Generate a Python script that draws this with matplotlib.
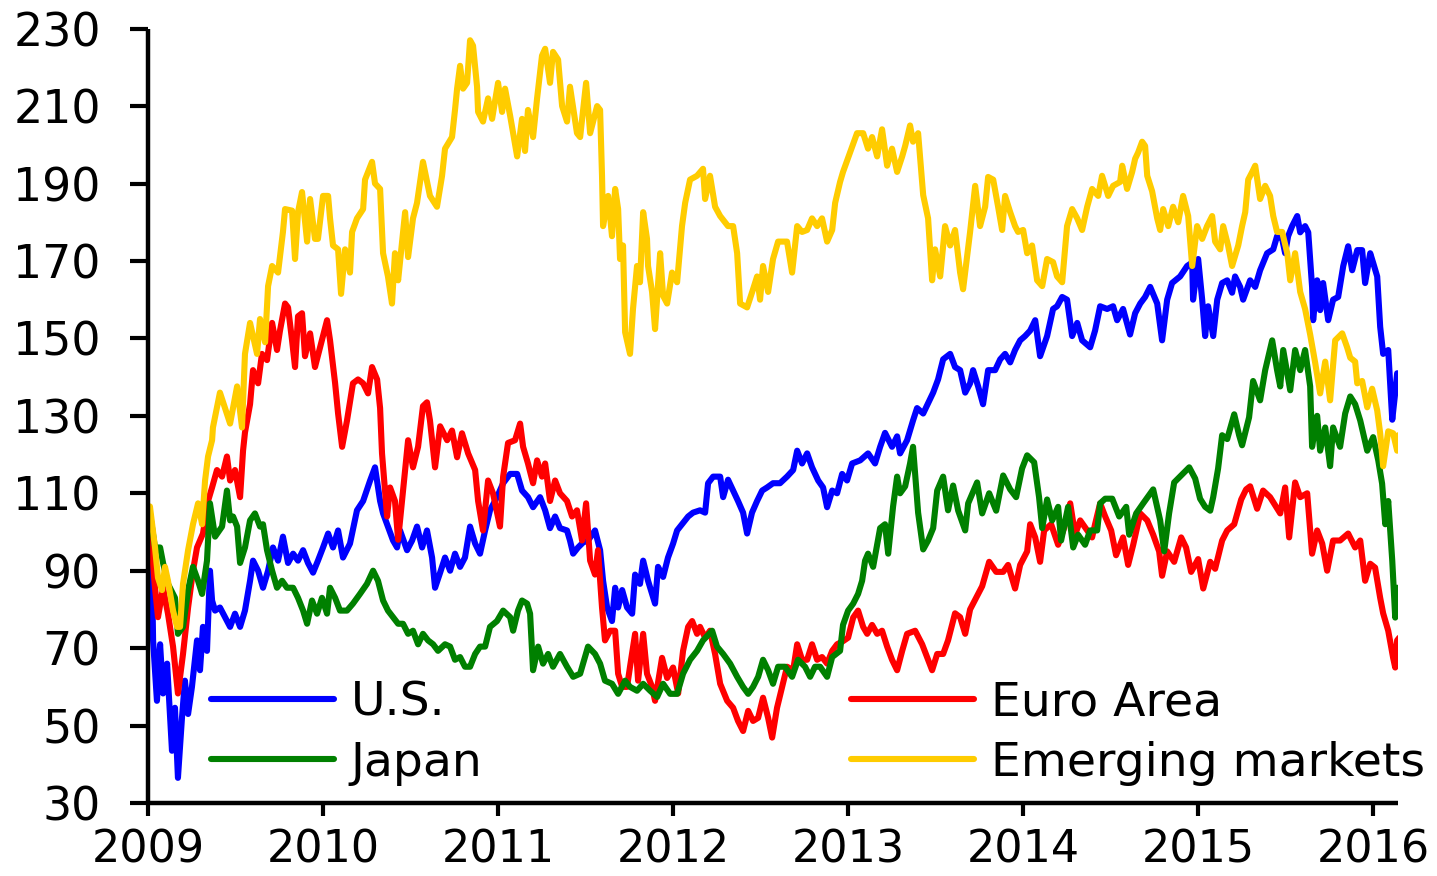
"""Equity indices by region, 2009-2016 (rebased)."""

import matplotlib
matplotlib.use('Agg')
import matplotlib.pyplot as plt


START_YEAR = 2009
YEAR_TICKS = [2009, 2010, 2011, 2012, 2013, 2014, 2015, 2016]
VALUE_TICKS = [30, 50, 70, 90, 110, 130, 150, 170, 190, 210, 230]

# time in years since start of 2009
US_T = [0.0, 0.023, 0.029, 0.051, 0.069, 0.086, 0.109, 0.137, 0.154, 0.171,
        0.194, 0.211, 0.229, 0.251, 0.28, 0.297, 0.314, 0.337, 0.354, 0.366,
        0.383, 0.411, 0.44, 0.469, 0.497, 0.526, 0.554, 0.583, 0.6, 0.629,
        0.657, 0.686, 0.714, 0.743, 0.771, 0.8, 0.829, 0.857, 0.886, 0.914,
        0.943, 0.971, 1.0, 1.029, 1.057, 1.086, 1.114, 1.154, 1.194, 1.229,
        1.269, 1.297, 1.326, 1.343, 1.371, 1.4, 1.423, 1.44, 1.48, 1.509,
        1.537, 1.566, 1.594, 1.623, 1.64, 1.669, 1.697, 1.726, 1.754, 1.783,
        1.811, 1.84, 1.869, 1.897, 1.926, 1.954, 1.994, 2.029, 2.069, 2.109,
        2.137, 2.171, 2.2, 2.24, 2.269, 2.297, 2.326, 2.354, 2.394, 2.411,
        2.429, 2.457, 2.486, 2.514, 2.554, 2.583, 2.6, 2.623, 2.651, 2.669,
        2.686, 2.709, 2.737, 2.766, 2.783, 2.811, 2.829, 2.857, 2.897, 2.914,
        2.943, 2.971, 3.0, 3.023, 3.051, 3.086, 3.114, 3.154, 3.183, 3.2,
        3.229, 3.269, 3.286, 3.314, 3.343, 3.371, 3.4, 3.423, 3.451, 3.48,
        3.509, 3.537, 3.571, 3.611, 3.651, 3.686, 3.709, 3.737, 3.766, 3.794,
        3.829, 3.857, 3.88, 3.909, 3.937, 3.966, 3.994, 4.023, 4.069, 4.114,
        4.154, 4.183, 4.211, 4.251, 4.28, 4.297, 4.337, 4.371, 4.394, 4.429,
        4.486, 4.514, 4.543, 4.583, 4.611, 4.64, 4.669, 4.697, 4.714, 4.743,
        4.771, 4.8, 4.84, 4.869, 4.897, 4.926, 4.954, 4.983, 5.011, 5.04,
        5.069, 5.097, 5.137, 5.171, 5.194, 5.223, 5.251, 5.28, 5.309, 5.337,
        5.383, 5.411, 5.44, 5.48, 5.514, 5.537, 5.571, 5.611, 5.64, 5.669,
        5.697, 5.726, 5.766, 5.794, 5.823, 5.851, 5.897, 5.937, 5.966, 5.971,
        6.0, 6.023, 6.04, 6.057, 6.086, 6.109, 6.137, 6.166, 6.194, 6.211,
        6.24, 6.257, 6.297, 6.326, 6.354, 6.394, 6.429, 6.451, 6.48, 6.497,
        6.514, 6.537, 6.566, 6.583, 6.611, 6.629, 6.651, 6.657, 6.68, 6.697,
        6.714, 6.743, 6.771, 6.8, 6.829, 6.857, 6.88, 6.909, 6.937, 6.954,
        6.983, 7.0, 7.023, 7.04, 7.057, 7.086, 7.109, 7.126, 7.137]
US_V = [100, 89.5, 72, 56.4, 71, 58.3, 66, 43.5, 54.6, 36.5,
        52, 61.6, 53, 60, 72, 64.3, 75.5, 69.3, 90, 82.3,
        79.7, 80.5, 78, 75.5, 78.9, 75.5, 79.7, 87.4, 92.6, 90,
        85.6, 90, 96, 92.6, 98.8, 92, 94.4, 92.6, 95.3, 92,
        89.5, 92.6, 96, 99.6, 96, 100.4, 93.4, 97, 105.6, 108,
        113.3, 116.7, 108, 104.8, 101.4, 97.8, 96, 100.4, 95.3, 97.8,
        101.4, 96, 100.4, 93.4, 85.6, 89.5, 93.4, 90, 94.4, 91,
        93.4, 101.4, 97, 94.4, 100.4, 105.6, 109, 112.6, 115, 115,
        110.7, 109, 106.4, 109, 105.6, 101, 104, 101, 100.4, 97.8,
        94.4, 96, 97.3, 97.8, 100.4, 95.3, 87.4, 80.5, 77, 85.6,
        80.5, 85, 80.5, 78.9, 89, 86.6, 92.6, 87.4, 81.5, 91,
        88.4, 93.4, 97, 100.4, 102, 104, 105, 105.6, 105, 112.6,
        114.3, 114.3, 109, 113.5, 110.7, 108, 105, 99.6, 105, 108,
        110.7, 111.5, 112.6, 112.6, 114.3, 116, 121, 117.7, 120.3, 116.7,
        113.3, 111.5, 106.4, 110.7, 110, 115, 113.3, 117.7, 118.5, 120.3,
        117.7, 122, 125.6, 122, 124.7, 120.3, 123.7, 128.8, 132, 130.6,
        136, 139.4, 144.6, 146, 142.6, 141.8, 136, 138.4, 141.8, 137.6,
        133, 141.8, 141.8, 144.6, 146, 143.8, 147, 149.5, 150.6, 152,
        154.7, 145.4, 150.6, 157.6, 158.3, 160.7, 160, 150.6, 154, 149.5,
        147.7, 152, 158.3, 157.6, 158.3, 154.7, 157.6, 151, 156.5, 159,
        160.7, 163.3, 159, 149.5, 160, 164.3, 166, 168.7, 169.6, 160,
        170.5, 160, 150.6, 158.3, 150.6, 160, 164.3, 165, 161.8, 166,
        163.3, 160, 165, 163.3, 167.6, 172, 173, 176.4, 175.7, 172,
        176.4, 179, 181.6, 177.4, 179, 177.4, 163.3, 154.7, 165, 157.3,
        164.3, 154.7, 160, 160.7, 168.7, 173.8, 167.6, 172.8, 172.8, 164.3,
        172, 169.5, 166, 153, 146, 147, 129, 136, 141]

EU_T = [0.0, 0.011, 0.04, 0.057, 0.086, 0.114, 0.143, 0.171, 0.2, 0.229,
        0.257, 0.28, 0.314, 0.343, 0.366, 0.394, 0.423, 0.451, 0.469, 0.497,
        0.526, 0.543, 0.554, 0.583, 0.6, 0.629, 0.651, 0.68, 0.709, 0.737,
        0.754, 0.783, 0.8, 0.823, 0.84, 0.857, 0.88, 0.897, 0.926, 0.954,
        0.983, 1.023, 1.04, 1.069, 1.086, 1.109, 1.137, 1.171, 1.2, 1.229,
        1.257, 1.28, 1.309, 1.326, 1.337, 1.366, 1.383, 1.411, 1.429, 1.457,
        1.486, 1.514, 1.543, 1.571, 1.594, 1.611, 1.64, 1.669, 1.709, 1.737,
        1.766, 1.794, 1.829, 1.869, 1.886, 1.914, 1.943, 1.971, 2.011, 2.029,
        2.057, 2.097, 2.126, 2.143, 2.171, 2.2, 2.223, 2.251, 2.269, 2.297,
        2.326, 2.354, 2.394, 2.423, 2.451, 2.48, 2.503, 2.526, 2.554, 2.571,
        2.594, 2.611, 2.64, 2.669, 2.686, 2.709, 2.737, 2.754, 2.783, 2.8,
        2.829, 2.851, 2.88, 2.897, 2.937, 2.966, 3.0, 3.029, 3.057, 3.086,
        3.109, 3.137, 3.154, 3.183, 3.211, 3.24, 3.269, 3.309, 3.343, 3.371,
        3.4, 3.429, 3.457, 3.486, 3.514, 3.543, 3.566, 3.594, 3.623, 3.651,
        3.686, 3.709, 3.737, 3.766, 3.794, 3.823, 3.851, 3.88, 3.909, 3.937,
        3.971, 4.0, 4.029, 4.057, 4.086, 4.109, 4.137, 4.166, 4.194, 4.223,
        4.251, 4.28, 4.309, 4.337, 4.383, 4.423, 4.451, 4.48, 4.509, 4.543,
        4.571, 4.611, 4.64, 4.669, 4.697, 4.726, 4.766, 4.806, 4.846, 4.886,
        4.914, 4.954, 4.983, 5.023, 5.04, 5.069, 5.097, 5.12, 5.16, 5.2,
        5.234, 5.269, 5.297, 5.326, 5.366, 5.394, 5.411, 5.44, 5.469, 5.503,
        5.531, 5.571, 5.6, 5.629, 5.669, 5.709, 5.743, 5.777, 5.794, 5.823,
        5.863, 5.903, 5.931, 5.96, 6.0, 6.029, 6.069, 6.097, 6.137, 6.166,
        6.206, 6.246, 6.274, 6.297, 6.337, 6.371, 6.411, 6.469, 6.497, 6.52,
        6.554, 6.583, 6.623, 6.651, 6.68, 6.709, 6.737, 6.771, 6.811, 6.857,
        6.897, 6.926, 6.954, 6.983, 7.011, 7.04, 7.057, 7.086, 7.114, 7.126,
        7.137, 7.149]
EU_V = [103, 101.4, 85.6, 78, 85.6, 78.9, 70.4, 58.3, 68.5, 80.5,
        90, 96, 99.6, 108, 111.5, 116, 114.3, 119.5, 113.3, 116,
        109, 121, 125.7, 133, 141.8, 138.4, 146, 144.4, 154, 147,
        152, 159, 158, 149.5, 142.6, 155.7, 156.5, 145.4, 151.3, 142.6,
        147.7, 154.7, 149.5, 138.4, 130.6, 122, 128.8, 138.4, 139.4, 138.4,
        135.8, 142.6, 139.4, 132, 120.3, 104, 111.5, 108, 98, 110.7,
        123.7, 116.7, 122, 132.5, 133.5, 128.8, 116.7, 127.3, 123.7, 126.2,
        119.3, 125.5, 120.3, 116, 108, 100.4, 113.3, 110, 101.4, 114.3,
        123, 123.7, 128, 122, 117.7, 112.6, 118.5, 114.3, 117.7, 108,
        113.3, 110, 108, 104, 105.6, 97.8, 107.4, 92.6, 89, 95.3,
        80.5, 72, 74.5, 74.5, 63.4, 60, 60, 65.2, 73.7, 61.6,
        73.7, 63.4, 60, 56.4, 67.5, 62.3, 65, 58.3, 69.3, 75.5,
        77, 73.7, 75.5, 72.7, 74.5, 68.5, 60.8, 56.4, 54.6, 51.2,
        48.6, 53.8, 51.2, 52, 57.2, 52, 46.9, 54.6, 60, 65.2,
        64.3, 71, 67, 67, 71, 67, 67.7, 66, 69.3, 71,
        71.8, 72.7, 77.9, 79.7, 75.5, 73.7, 76, 73.7, 74.5, 70.4,
        67, 64.3, 69.3, 73.7, 74.5, 71, 67.7, 64.3, 68.5, 68.5,
        72, 79, 78, 73.7, 80, 82.5, 86, 92.3, 89.7, 89.7,
        91.5, 85.4, 91.5, 95, 102, 98.6, 92.3, 100.4, 102, 96.7,
        101, 107.4, 99.3, 103, 100.4, 98.6, 102, 107.4, 104, 100.4,
        94, 98.6, 91.5, 96.7, 104.8, 103, 99.3, 95, 88.7, 95,
        92.3, 98.6, 96, 89.7, 93, 85.4, 92.3, 90.5, 97.8, 100.4,
        102, 108.4, 111, 111.8, 106, 110.7, 109, 104.8, 111.5, 98.6,
        112.8, 109, 110, 94.4, 100.4, 97, 90, 97.8, 97.8, 99.6,
        96, 97.8, 87.4, 91.8, 90.8, 83, 79, 74.5, 67.5, 65,
        72, 72.7]

JP_T = [0.0, 0.011, 0.04, 0.069, 0.086, 0.114, 0.154, 0.171, 0.2, 0.229,
        0.257, 0.286, 0.309, 0.337, 0.354, 0.383, 0.423, 0.451, 0.469, 0.486,
        0.509, 0.526, 0.554, 0.583, 0.611, 0.64, 0.657, 0.68, 0.709, 0.737,
        0.766, 0.794, 0.829, 0.857, 0.886, 0.909, 0.937, 0.966, 0.994, 1.023,
        1.04, 1.069, 1.097, 1.137, 1.171, 1.211, 1.251, 1.286, 1.314, 1.343,
        1.371, 1.4, 1.429, 1.457, 1.486, 1.514, 1.543, 1.571, 1.6, 1.629,
        1.657, 1.697, 1.726, 1.754, 1.783, 1.811, 1.84, 1.869, 1.897, 1.926,
        1.954, 1.994, 2.029, 2.069, 2.086, 2.114, 2.137, 2.166, 2.183, 2.2,
        2.229, 2.257, 2.286, 2.314, 2.354, 2.394, 2.429, 2.469, 2.514, 2.554,
        2.583, 2.611, 2.651, 2.686, 2.726, 2.754, 2.794, 2.829, 2.869, 2.909,
        2.943, 2.983, 3.023, 3.057, 3.097, 3.137, 3.171, 3.223, 3.251, 3.286,
        3.326, 3.366, 3.4, 3.429, 3.457, 3.486, 3.514, 3.543, 3.571, 3.6,
        3.64, 3.68, 3.714, 3.754, 3.783, 3.811, 3.84, 3.88, 3.909, 3.954,
        3.971, 4.0, 4.029, 4.057, 4.08, 4.097, 4.114, 4.143, 4.183, 4.211,
        4.229, 4.257, 4.28, 4.297, 4.326, 4.354, 4.371, 4.4, 4.429, 4.457,
        4.486, 4.509, 4.543, 4.571, 4.6, 4.629, 4.669, 4.686, 4.737, 4.766,
        4.806, 4.846, 4.886, 4.926, 4.96, 4.994, 5.023, 5.063, 5.091, 5.109,
        5.137, 5.166, 5.2, 5.217, 5.257, 5.286, 5.314, 5.354, 5.383, 5.423,
        5.44, 5.469, 5.509, 5.549, 5.589, 5.606, 5.646, 5.686, 5.743, 5.783,
        5.806, 5.834, 5.863, 5.903, 5.949, 5.983, 6.011, 6.04, 6.069, 6.086,
        6.114, 6.137, 6.166, 6.206, 6.234, 6.251, 6.291, 6.314, 6.354, 6.383,
        6.423, 6.451, 6.469, 6.486, 6.526, 6.554, 6.583, 6.611, 6.64, 6.651,
        6.68, 6.697, 6.726, 6.754, 6.771, 6.811, 6.84, 6.869, 6.897, 6.926,
        6.966, 7.0, 7.029, 7.051, 7.069, 7.086, 7.109, 7.126, 7.137, 7.149]
JP_V = [104, 104.8, 96, 96, 92, 86.6, 83, 73.7, 75.5, 85,
        91, 87.4, 84, 92.6, 107.4, 98.8, 101.4, 110.7, 103, 104,
        101.4, 92, 96, 103, 104.8, 101.4, 102, 95.3, 90, 85.6,
        87.4, 85.6, 85.6, 83, 79.7, 76.3, 82.3, 78.9, 83, 78.9,
        85.6, 83, 79.7, 79.7, 81.5, 84, 86.6, 90, 87.4, 82.3,
        79.7, 78, 76.3, 76.3, 73.7, 74.5, 71, 73.7, 72, 71,
        69.3, 71, 70.4, 67, 67.7, 65.2, 65.2, 68.5, 70.4, 70.4,
        75.5, 77, 79.7, 78, 74.5, 79.7, 82.3, 81.5, 78.9, 64.3,
        70.4, 66, 68.5, 65.2, 68.5, 65.2, 62.6, 63.4, 70.4, 68.5,
        66, 61.6, 60.8, 58.2, 61.6, 60, 59, 60.8, 59, 57.4,
        60.8, 58.2, 58.2, 63.4, 67, 69.3, 72, 74.5, 70.4, 68.5,
        66, 62.6, 60, 58.2, 60, 62.6, 67, 64.3, 60.8, 65.2,
        65.2, 62.6, 67, 65.2, 62.6, 65.2, 65.2, 62.6, 67.7, 69.3,
        76, 79.7, 81.5, 84, 87.4, 92.6, 94.4, 91, 101, 102,
        94.4, 106.6, 114.3, 110, 111.8, 117.7, 122, 105, 95.5, 97.8,
        101, 110.7, 114.3, 105.6, 112, 105.5, 100.4, 107.4, 112.8, 104.8,
        110, 105.5, 114.6, 111, 109, 116.4, 119.8, 118, 109, 101,
        108.4, 103, 106.5, 97.8, 106.5, 96, 99.3, 96.7, 100.4, 100.4,
        107.4, 108.6, 108.6, 104, 106.5, 99.3, 104.8, 107.4, 111, 103,
        95, 104.8, 112.8, 114.6, 116.7, 113.8, 108.6, 106.5, 105.5, 109,
        116.4, 125, 124, 130.4, 125, 122.4, 129.6, 139, 134, 141.8,
        149.5, 141.8, 137.6, 147, 136.6, 147, 141.8, 147, 137.6, 122,
        130, 121, 127, 117, 127, 122, 130.6, 135, 133, 128.8,
        121, 124.5, 118.5, 112.5, 102, 108, 92.6, 77.9, 85.6, 84.4]

EM_T = [0.0, 0.011, 0.04, 0.057, 0.08, 0.097, 0.114, 0.143, 0.166, 0.183,
        0.2, 0.229, 0.257, 0.286, 0.309, 0.326, 0.343, 0.366, 0.371, 0.411,
        0.469, 0.509, 0.537, 0.554, 0.583, 0.623, 0.64, 0.669, 0.686, 0.709,
        0.743, 0.771, 0.783, 0.823, 0.84, 0.857, 0.88, 0.909, 0.926, 0.954,
        0.971, 1.0, 1.029, 1.04, 1.057, 1.086, 1.103, 1.126, 1.154, 1.166,
        1.194, 1.229, 1.24, 1.28, 1.297, 1.326, 1.343, 1.371, 1.394, 1.411,
        1.429, 1.469, 1.486, 1.514, 1.537, 1.571, 1.611, 1.651, 1.68, 1.697,
        1.737, 1.754, 1.766, 1.783, 1.8, 1.823, 1.84, 1.857, 1.88, 1.886,
        1.914, 1.943, 1.966, 2.0, 2.023, 2.04, 2.069, 2.109, 2.137, 2.154,
        2.171, 2.2, 2.223, 2.251, 2.269, 2.297, 2.314, 2.343, 2.366, 2.394,
        2.411, 2.451, 2.469, 2.503, 2.526, 2.566, 2.583, 2.594, 2.6, 2.629,
        2.651, 2.669, 2.686, 2.697, 2.714, 2.726, 2.754, 2.771, 2.794, 2.811,
        2.829, 2.851, 2.857, 2.88, 2.897, 2.926, 2.943, 2.966, 2.994, 3.023,
        3.051, 3.069, 3.097, 3.137, 3.171, 3.183, 3.211, 3.24, 3.269, 3.314,
        3.343, 3.366, 3.383, 3.423, 3.457, 3.48, 3.497, 3.514, 3.543, 3.571,
        3.6, 3.651, 3.68, 3.709, 3.737, 3.766, 3.794, 3.823, 3.851, 3.88,
        3.909, 3.926, 3.954, 3.971, 4.011, 4.051, 4.086, 4.114, 4.137, 4.166,
        4.194, 4.223, 4.251, 4.28, 4.309, 4.326, 4.354, 4.371, 4.4, 4.429,
        4.457, 4.48, 4.497, 4.526, 4.554, 4.583, 4.611, 4.64, 4.657, 4.697,
        4.726, 4.754, 4.783, 4.8, 4.829, 4.857, 4.88, 4.897, 4.926, 4.954,
        4.971, 5.0, 5.023, 5.051, 5.08, 5.109, 5.137, 5.171, 5.194, 5.223,
        5.251, 5.28, 5.309, 5.337, 5.366, 5.394, 5.429, 5.451, 5.486, 5.514,
        5.554, 5.566, 5.594, 5.623, 5.64, 5.657, 5.68, 5.697, 5.709, 5.737,
        5.766, 5.783, 5.8, 5.829, 5.857, 5.886, 5.914, 5.943, 5.966, 5.994,
        6.023, 6.051, 6.08, 6.097, 6.126, 6.143, 6.171, 6.194, 6.229, 6.251,
        6.269, 6.286, 6.309, 6.326, 6.354, 6.383, 6.411, 6.429, 6.451, 6.48,
        6.509, 6.526, 6.554, 6.583, 6.611, 6.64, 6.669, 6.697, 6.726, 6.754,
        6.783, 6.823, 6.851, 6.869, 6.897, 6.909, 6.937, 6.966, 6.994, 7.023,
        7.04, 7.057, 7.086, 7.114, 7.137, 7.143]
EM_V = [104, 106.6, 96, 88.2, 85, 91, 87.4, 79.7, 75.5, 75.5,
        86.6, 95.3, 102, 107.4, 102, 113.3, 119.5, 123.7, 127, 136,
        128, 137.6, 127, 146, 154, 146, 155, 149, 163.5, 168.7,
        167, 177.5, 183.4, 183, 170.5, 182.6, 187.8, 175, 186, 175.7,
        175.7, 186.8, 186.8, 181, 174, 173, 161.5, 173, 167, 177.5,
        181, 183.4, 191, 195.6, 190, 188.6, 172, 166, 159, 172,
        165, 182.6, 171, 181, 185, 195.6, 186.8, 184, 192, 199,
        202, 209, 214.5, 220.4, 214.5, 216, 227, 225.6, 215, 208.5,
        206, 212, 206.7, 216, 208.5, 214.5, 207.5, 197, 206.7, 198.4,
        209, 202, 212, 223, 224.8, 216, 224, 222, 210, 206,
        215, 203, 202, 216, 203, 210, 209, 192, 179, 186.8,
        176.4, 188.6, 183.4, 170.5, 174, 151.6, 146, 157.6, 168.7, 164.5,
        182.6, 175.7, 168.7, 162, 152.4, 172, 161, 159, 167, 164.5,
        179, 185, 191, 192, 193.8, 186, 192, 184, 181.6, 179,
        179, 172, 159, 158, 162.7, 166, 160, 168.7, 162, 170.5,
        175, 175, 167, 179, 177.5, 178, 181, 179, 181, 175,
        178, 185, 190.4, 193, 198, 203, 203, 199, 202, 197,
        204, 194.6, 199, 193, 197, 199.7, 205, 200.8, 203, 187,
        181, 165, 173, 166, 179, 174, 178, 167, 162.7, 177.5,
        189.4, 179, 184, 191.7, 191, 184, 178, 186.8, 182.6, 179,
        177.5, 178, 172, 174, 165, 163.5, 170.5, 169.7, 166, 164.5,
        179, 183.4, 181, 178, 184, 188.6, 186.8, 192, 186.8, 189.4,
        190.4, 194.6, 188.6, 193, 196.4, 198, 200.8, 199.7, 192, 188,
        181, 178, 183.4, 179, 184, 180, 186.8, 181.6, 168.7, 179,
        175.7, 179, 181.6, 175, 173, 179, 174, 168.7, 174, 179,
        182.6, 191, 193, 194.6, 186, 189.4, 186.8, 181.6, 177.5, 177.5,
        172, 165, 172, 162, 157.6, 151, 143.6, 135.8, 144, 134,
        149.5, 151.3, 147.7, 145, 144, 138.4, 139, 132.2, 137, 131.4,
        125.5, 117, 126, 125.5, 121, 125]

SERIES = [
    ('U.S.', US_T, US_V, '#0000ff'),
    ('Euro Area', EU_T, EU_V, '#ff0000'),
    ('Japan', JP_T, JP_V, '#008000'),
    ('Emerging markets', EM_T, EM_V, '#ffcc00'),
]


def main():
    plt.rcParams['font.family'] = ['DejaVu Sans']
    fig = plt.figure(figsize=(14.37, 8.76), dpi=100)
    ax = fig.add_axes([0.103, 0.0833, 0.870, 0.884])

    lines = {}
    for name, t, v, color in SERIES:
        years = [START_YEAR + x for x in t]
        lines[name], = ax.plot(years, v, color=color, lw=4.4,
                               solid_joinstyle='round', solid_capstyle='round')

    ax.set_xlim(2009, 2016.143)
    ax.set_ylim(30, 230)
    ax.set_xticks(YEAR_TICKS)
    ax.set_xticklabels([str(y) for y in YEAR_TICKS])
    ax.set_yticks(VALUE_TICKS)

    for side in ('top', 'right'):
        ax.spines[side].set_visible(False)
    for side in ('left', 'bottom'):
        ax.spines[side].set_linewidth(3.2)
        ax.spines[side].set_capstyle('butt')
    ax.tick_params(axis='y', direction='out', length=13, width=3,
                   labelsize=33, pad=21)
    ax.tick_params(axis='x', direction='out', length=9, width=3,
                   labelsize=32, pad=9)

    # legend: two columns, no frame
    order = ['U.S.', 'Japan', 'Euro Area', 'Emerging markets']
    ax.legend([lines[k] for k in order], order, ncol=2, frameon=False,
              loc='lower left', bbox_to_anchor=(0.0505, 0.022),
              fontsize=34, handlelength=2.6, handletextpad=0.36,
              columnspacing=7.8, labelspacing=0.33, borderpad=0,
              borderaxespad=0)

    fig.savefig('out.png', dpi=100)


if __name__ == '__main__':
    main()
